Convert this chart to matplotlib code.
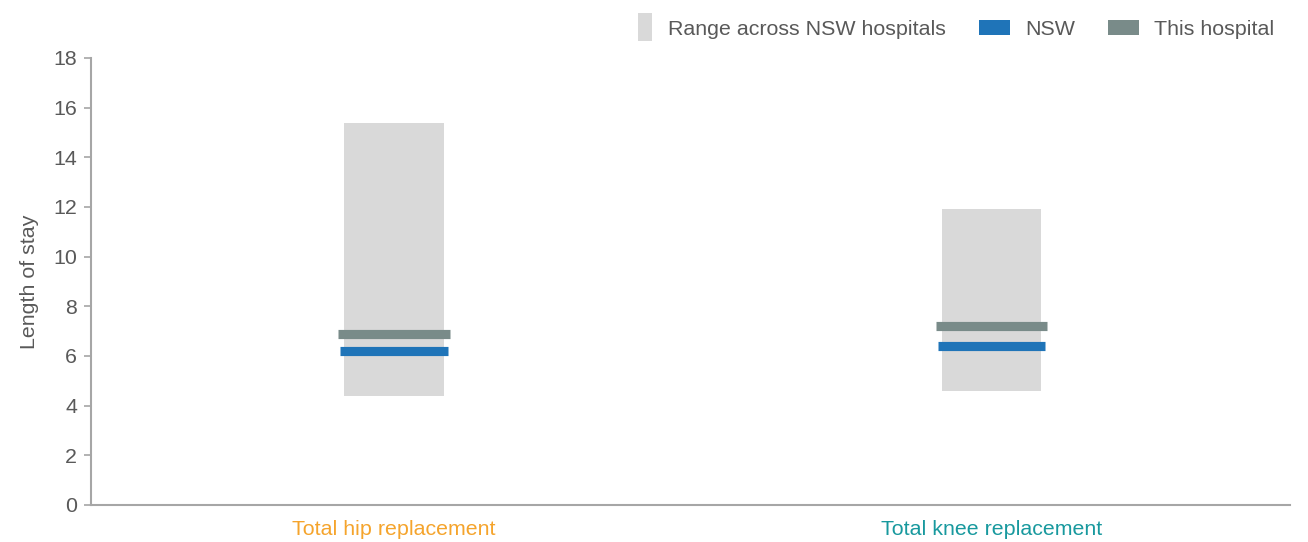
import matplotlib
matplotlib.use("Agg")
import matplotlib.pyplot as plt
from matplotlib.patches import Patch, Rectangle
from matplotlib.legend_handler import HandlerPatch

plt.rcParams['font.family'] = ['Liberation Sans', 'DejaVu Sans']

# data
procedures = ["Total hip replacement", "Total knee replacement"]
label_colors = ["#F5A42C", "#18999E"]
range_low = [4.4, 4.6]
range_high = [15.4, 11.9]
nsw_value = [6.2, 6.4]
hospital_value = [6.9, 7.2]

range_color = "#D9D9D9"
nsw_color = "#1F74B8"
hosp_color = "#798B89"
text_color = "#595959"
axis_color = "#A6A6A6"
fs = 15.4


class TallPatchHandler(HandlerPatch):
    # narrow, tall swatch for the range entry
    def create_artists(self, legend, orig_handle, xdescent, ydescent,
                       width, height, fontsize, trans):
        w = width * 0.48
        h = height * 1.85
        p = Rectangle((-xdescent + width - w, -ydescent - (h - height) / 2), w, h,
                      facecolor=orig_handle.get_facecolor(), edgecolor="none",
                      transform=trans)
        return [p]


fig = plt.figure(figsize=(13.08, 5.42), dpi=100)
ax = fig.add_axes([0.0696, 0.0683, 0.917, 0.8247])

x = list(range(len(procedures)))
heights = [h - l for h, l in zip(range_high, range_low)]
ax.bar(x, heights, bottom=range_low, width=0.166, color=range_color, zorder=1)

for i in x:
    ax.hlines(hospital_value[i], i - 0.093, i + 0.093, color=hosp_color,
              linewidth=6.6, capstyle="butt", zorder=3)
    ax.hlines(nsw_value[i], i - 0.09, i + 0.09, color=nsw_color,
              linewidth=6.6, capstyle="butt", zorder=3)

ax.set_xlim(-0.507, 1.5)
ax.set_ylim(0, 18)
ax.set_yticks(range(0, 19, 2))
ax.set_xticks(x)
ax.set_xticklabels(procedures, fontsize=fs)
for lbl, c in zip(ax.get_xticklabels(), label_colors):
    lbl.set_color(c)
ax.tick_params(axis="x", length=0, pad=11)
ax.tick_params(axis="y", labelsize=fs, labelcolor=text_color, color=axis_color,
               length=5, width=1.2, pad=5)

for s in ["top", "right"]:
    ax.spines[s].set_visible(False)
ax.spines["left"].set_color(axis_color)
ax.spines["bottom"].set_color(axis_color)
ax.spines["left"].set_linewidth(1.5)
ax.spines["bottom"].set_linewidth(1.5)

ax.set_ylabel("Length of stay", fontsize=fs, color=text_color, labelpad=10)

h_range = Patch(facecolor=range_color, label="Range across NSW hospitals")
h_nsw = Patch(facecolor=nsw_color, label="NSW")
h_hosp = Patch(facecolor=hosp_color, label="This hospital")
leg = fig.legend(handles=[h_range, h_nsw, h_hosp], loc="upper right",
                 bbox_to_anchor=(0.989, 0.999), ncol=3, frameon=False,
                 fontsize=fs, handlelength=1.44, handleheight=0.7,
                 columnspacing=1.55, handletextpad=0.72,
                 handler_map={h_range: TallPatchHandler()})
for t in leg.get_texts():
    t.set_color(text_color)

fig.savefig("out.png", dpi=100)
